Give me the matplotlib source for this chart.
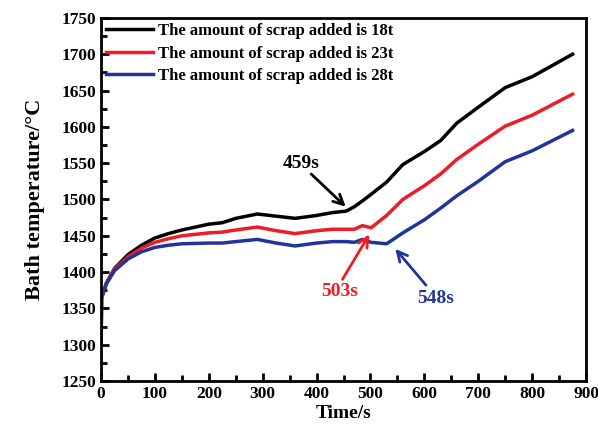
import numpy as np
import matplotlib.pyplot as plt
from matplotlib.ticker import MultipleLocator

plt.rcParams['font.family'] = ['Liberation Serif', 'DejaVu Serif']
plt.rcParams['font.weight'] = 'bold'

# time points (s)
t = [0, 1, 10, 25, 50, 75, 100, 125, 150, 200, 225, 250, 290, 325, 360, 400,
     430, 455, 470, 485, 501, 530, 560, 600, 630, 660, 700, 750, 800, 875]
# bath temperature for each scrap amount
temp_18t = [1300, 1365, 1385, 1405, 1424, 1437, 1447, 1453, 1458, 1466, 1468, 1474,
            1480, 1477, 1474, 1478, 1482, 1484, 1490, 1498, 1507, 1524, 1548, 1566,
            1581, 1605, 1627, 1654, 1669, 1700]
temp_23t = [1300, 1365, 1385, 1404, 1421, 1433, 1441, 1446, 1450, 1454, 1455, 1458,
            1462, 1457, 1453, 1457, 1459, 1459, 1459, 1464, 1461, 1478, 1500, 1519,
            1535, 1555, 1576, 1601, 1616, 1645]
temp_28t = [1300, 1365, 1384, 1402, 1418, 1428, 1434, 1437, 1439, 1440, 1440, 1442,
            1445, 1440, 1436, 1440, 1442, 1442, 1441, 1445, 1441, 1439, 1454, 1472,
            1488, 1505, 1525, 1552, 1567, 1595]

labels = ['The amount of scrap added is 18t',
          'The amount of scrap added is 23t',
          'The amount of scrap added is 28t']
colors = ['black', '#ee1c24', '#21349b']

# turning point labels: text, text position, arrow tail, arrow head
marks = ['459s', '503s', '548s']
text_pos = [(371, 1550), (443, 1373), (620, 1364)]
tails = [(390, 1535), (448, 1390), (603, 1382)]
heads = [(454, 1490), (498, 1452), (546, 1432)]

fig = plt.figure(figsize=(5.98, 4.36), dpi=100)
ax = fig.add_axes([0.169, 0.126, 0.811, 0.833])

for y, c, lab in zip([temp_18t, temp_23t, temp_28t], colors, labels):
    ax.plot(t, y, color=c, lw=2.5, label=lab)

for m, tp, tl, hd, c in zip(marks, text_pos, tails, heads, colors):
    ax.text(tp[0], tp[1], m, color=c, fontsize=14, fontweight='bold',
            ha='center', va='center')
    ax.annotate('', xy=hd, xytext=tl,
                arrowprops=dict(arrowstyle='->', color=c, lw=2,
                                mutation_scale=18, shrinkA=0, shrinkB=0))

ax.set_xlim(0, 900)
ax.set_ylim(1250, 1750)
ax.xaxis.set_major_locator(MultipleLocator(100))
ax.xaxis.set_minor_locator(MultipleLocator(50))
ax.yaxis.set_major_locator(MultipleLocator(50))
ax.yaxis.set_minor_locator(MultipleLocator(25))
ax.tick_params(which='both', direction='in', width=2, top=False, right=False,
               labelsize=12.5)
ax.tick_params(which='major', length=6)
ax.tick_params(which='minor', length=4)
for s in ax.spines.values():
    s.set_linewidth(2)

ax.set_xlabel('Time/s', fontsize=14, fontweight='bold', labelpad=2)
ax.set_ylabel('Bath temperature/\u00b0C', fontsize=16, fontweight='bold',
              labelpad=12)

ax.legend(loc='upper left', frameon=False, handlelength=2.8,
          borderaxespad=0.1, borderpad=0.2, labelspacing=0.4,
          handletextpad=0.3, prop={'weight': 'bold', 'size': 12})

plt.savefig('out.png', dpi=100)
